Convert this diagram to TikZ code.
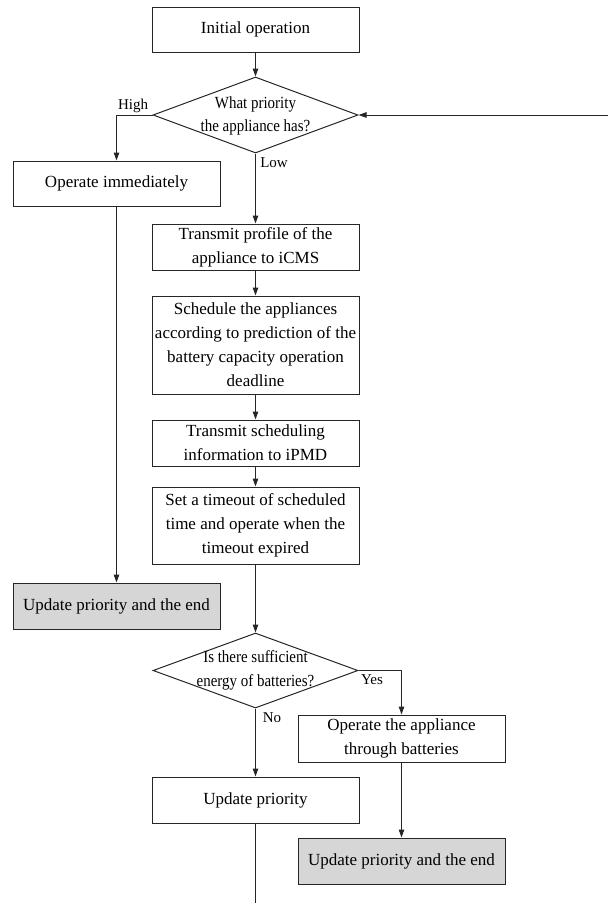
\documentclass[tikz,border=0pt]{standalone}
\usepackage{fontspec}
\setmainfont{Liberation Serif}
\newfontfamily\condfont{Liberation Serif}[FakeStretch=0.88]
\usetikzlibrary{shapes.geometric,arrows.meta}

\begin{document}
\begin{tikzpicture}[x=1pt,y=-1pt,
  every node/.style={inner sep=0pt},
  proc/.style={draw=black!85, rectangle, minimum width=207pt, align=center,
    font=\fontsize{17}{24}\selectfont, line width=1pt},
  final/.style={proc, fill=black!16},
  decision/.style={draw=black!85, diamond, minimum width=205pt, minimum height=76pt,
    line width=1pt},
  dtext/.style={align=center, font=\condfont\fontsize{17}{23.5}\selectfont},
  branch/.style={font=\fontsize{15}{18}\selectfont},
  flow/.style={draw=black!85, line width=1pt, -{Triangle[length=8pt,width=5.5pt]}},
  wire/.style={draw=black!85, line width=1pt}]

\useasboundingbox (0,0) rectangle (608,903);

% main column
\node[proc, minimum height=45pt] (init) at (255.5,29.5) {Initial operation};
\node[decision] (d1) at (255.5,115) {};
\node[dtext] (d1t) at (255.5,116) {What priority\\the appliance has?};
\node[proc, minimum height=46pt] (prof) at (255.5,247) {Transmit profile of the\\appliance to iCMS};
\node[proc, minimum height=98pt] (sched) at (255.5,345)
  {Schedule the appliances\\according to prediction of the\\battery capacity operation\\deadline};
\node[proc, minimum height=46pt] (info) at (255.5,443) {Transmit scheduling\\information to iPMD};
\node[proc, minimum height=77pt] (tout) at (255.5,525.5)
  {Set a timeout of scheduled\\time and operate when the\\timeout expired};
\node[decision, minimum height=75pt] (d2) at (255.5,670.5) {};
\node[dtext] (d2t) at (255.5,670.5) {Is there sufficient\\energy of batteries?};
\node[proc, minimum height=46pt] (upd) at (255.5,800) {Update priority};

% high-priority branch
\node[proc, minimum height=45pt] (now) at (116.5,183.5) {Operate immediately};
\node[final, minimum height=46pt] (endL) at (116.5,606) {Update priority and the end};

% battery branch
\node[proc, minimum height=47pt] (batt) at (401.5,738.5) {Operate the appliance\\through batteries};
\node[final, minimum height=46pt] (endR) at (401.5,861) {Update priority and the end};

% branch labels
\node[branch] (lhigh) at (133,106) {High};
\node[branch] (llow) at (274,163) {Low};
\node[branch] (lyes) at (372,680) {Yes};
\node[branch] (lno) at (272,718) {No};

\coordinate (back) at (608,115);
\coordinate (tail) at (255.5,903);

% connectors
\draw[flow] (init) -- (d1.north);
\draw[flow] (d1.west) -| (now.north);
\draw[flow] (back) -- (d1.east);
\draw[flow] (d1.south) -- (prof.north);
\draw[flow] (prof) -- (sched);
\draw[flow] (sched) -- (info);
\draw[flow] (info) -- (tout);
\draw[flow] (now) -- (endL);
\draw[flow] (tout) -- (d2.north);
\draw[flow] (d2.east) -| (batt.north);
\draw[flow] (d2.south) -- (upd.north);
\draw[flow] (batt) -- (endR);
\draw[wire] (upd.south) -- (tail);
\end{tikzpicture}
\end{document}
